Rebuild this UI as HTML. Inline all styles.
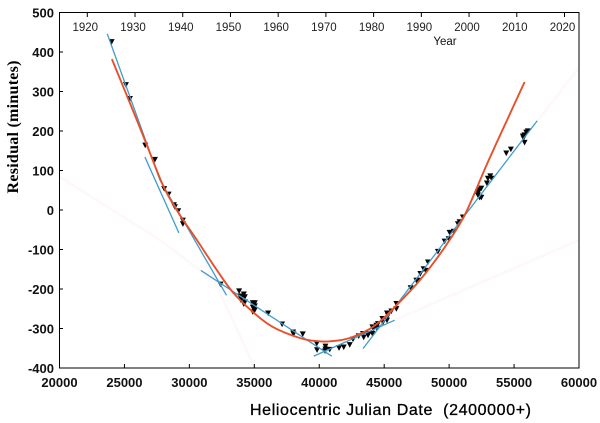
<!DOCTYPE html>
<html lang="en">
<head>
<meta charset="utf-8">
<title>Residual vs Heliocentric Julian Date</title>
<style>
html,body{margin:0;padding:0;background:#fff;width:600px;height:423px;overflow:hidden}
svg{display:block;font-family:"Liberation Sans",Arial,sans-serif}
</style>
</head>
<body>
<svg id="chart" width="600" height="423" viewBox="0 0 600 423">
  <g fill="none" stroke="#fef9f9" stroke-width="3">
    <path d="M60 177L160 240L226 290"/>
    <path d="M200 250L255 368"/>
    <path d="M395 320L579 240"/>
    <path d="M538 120L579 68"/>
  </g>
  <rect x="59.5" y="12.5" width="519.5" height="355.5" fill="none" stroke="#000" stroke-width="1"/>
  <g id="axes"></g>
  <g id="marks"></g>
  <text x="445" y="45" font-size="11.5" text-anchor="middle" fill="#111">Year</text>
  <text transform="translate(18,127) rotate(-90)" font-family="'Liberation Serif',serif" font-weight="bold" font-size="16" text-anchor="middle" textLength="133" lengthAdjust="spacing" fill="#000">Residual (minutes)</text>
  <text x="250" y="415" font-size="16" textLength="281" lengthAdjust="spacing" fill="#000" stroke="#000" stroke-width="0.3" xml:space="preserve">Heliocentric Julian Date  (2400000+)</text>
</svg>
<script>
const xTicks = [20000, 25000, 30000, 35000, 40000, 45000, 50000, 55000, 60000];
const yTicks = [500, 400, 300, 200, 100, 0, -100, -200, -300, -400];
const yearTicks = [1920, 1930, 1940, 1950, 1960, 1970, 1980, 1990, 2000, 2010, 2020];

const redJD = [24038, 25423, 26577, 27962, 29115, 30577, 32115, 33346, 34885, 36423, 38500, 39808, 41038, 42346, 43885, 44885, 46192, 47500, 48731, 50038, 51269, 52885, 54423, 55808];
const redResidual = [382, 271, 177, 63, -5, -76, -152, -208, -258, -296, -324, -332, -332, -324, -301, -276, -233, -187, -137, -76, -8, 114, 225, 324];

const fitStartJD = [23677, 26577, 27731, 30885, 39577, 43369];
const fitStartResidual = [446, 134, 76, -153, -370, -351];
const fitEndJD = [27731, 29192, 32862, 40962, 45808, 56785];
const fitEndResidual = [76, -58, -216, -370, -279, 226];

const obsJD = [24015, 25115, 25423, 26600, 27346, 28062, 28400, 28808, 28885, 29138, 29500, 29500, 32400,
  33831, 33885, 33962, 34192, 34269, 34269, 34192, 34038,
  34885, 35038, 34885, 34962, 35038, 34885, 35038, 36062, 37138, 37985, 38015, 38731,
  39808, 39831, 40477, 40477, 40446, 40808, 41523, 41885, 42346, 42600, 43038, 43369, 43423, 43754, 43754,
  44092, 44092, 44192, 44400, 44523, 44446, 44862, 44908, 45215, 45292, 45215, 45554, 45938, 45938,
  47038, 47477, 47600, 47785, 48038, 48192, 48369, 49138, 49654, 49962, 50038, 50346, 50677, 50808, 51062,
  52215, 52346, 52477, 52215, 52346, 52477, 52908, 52985, 53169, 53269, 54400, 54754,
  55677, 55808, 55938, 56062, 55731, 55808];
const obsResidual = [426, 317, 282, 164, 128, 54, 40, 13, 8, -2, -26, -35, -188,
  -205, -218, -228, -213, -220, -233, -238, -220,
  -235, -235, -246, -251, -253, -258, -243, -261, -289, -309, -314, -314,
  -338, -354, -345, -352, -357, -353, -349, -347, -341, -327, -319, -313, -322, -313, -317,
  -296, -313, -300, -292, -288, -299, -275, -284, -261, -267, -279, -256, -250, -237,
  -197, -178, -178, -161, -149, -153, -132, -105, -79, -73, -57, -54, -35, -30, -18,
  46, 51, 55, 38, 32, 32, 68, 80, 86, 80, 144, 154,
  187, 190, 197, 200, 182, 171];

const NS = 'http://www.w3.org/2000/svg';
const axes = document.getElementById('axes');
const marks = document.getElementById('marks');

function xScale(jd) { return 59.5 + (jd - 20000) * 519.5 / 40000; }
function yScale(r) { return 12.5 + (500 - r) * 355.5 / 900; }
function yearScale(y) { return 87.3 + (y - 1920) * 4.772; }

function make(tag, parent, props, text) {
  const el = document.createElementNS(NS, tag);
  for (const k in props) el.setAttribute(k, props[k]);
  if (text !== undefined) el.textContent = text;
  parent.appendChild(el);
  return el;
}

function smoothPath(xs, ys) {
  let d = 'M' + xs[0].toFixed(1) + ' ' + ys[0].toFixed(1);
  for (let i = 0; i < xs.length - 1; i++) {
    const a = Math.max(i - 1, 0), b = Math.min(i + 2, xs.length - 1);
    const c1x = xs[i] + (xs[i + 1] - xs[a]) / 6, c1y = ys[i] + (ys[i + 1] - ys[a]) / 6;
    const c2x = xs[i + 1] - (xs[b] - xs[i]) / 6, c2y = ys[i + 1] - (ys[b] - ys[i]) / 6;
    d += 'C' + c1x.toFixed(1) + ' ' + c1y.toFixed(1) + ' ' + c2x.toFixed(1) + ' ' + c2y.toFixed(1) + ' ' + xs[i + 1].toFixed(1) + ' ' + ys[i + 1].toFixed(1);
  }
  return d;
}

xTicks.forEach(function (v) {
  const x = xScale(v);
  const t = make('line', axes, {x1: x, x2: x, y1: 368, y2: 364, stroke: '#000'});
  
  
  const l = make('text', axes, {x: x, y: 387, 'font-size': 13, 'font-weight': 'bold', 'text-anchor': 'middle', fill: '#111'}, String(v));
  
  
});

yTicks.forEach(function (v) {
  const y = yScale(v);
  const t = make('line', axes, {x1: 59.5, x2: 63, y1: y, y2: y, stroke: '#000'});
  
  
  const l = make('text', axes, {x: 54, y: y + 5, 'font-size': 13, 'font-weight': 'bold', 'text-anchor': 'end', fill: '#111'}, String(v));
  
  
});

yearTicks.forEach(function (v) {
  const x = yearScale(v);
  const t = make('line', axes, {x1: x, x2: x, y1: 12.5, y2: 17, stroke: '#000'});
  
  
  const l = make('text', axes, {x: x - 2, y: 31, 'font-size': 11.5, 'text-anchor': 'middle', fill: '#222'}, String(v));
  
  
});

obsJD.forEach(function (jd, i) {
  const x = xScale(jd), y = yScale(obsResidual[i]);
  const p = make('path', marks, {d: 'M' + (x - 3) + ' ' + (y - 2.6) + 'H' + (x + 3) + 'L' + x + ' ' + (y + 3) + 'Z', fill: '#050505'});
  
  
});

fitStartJD.forEach(function (jd, i) {
  const s = make('line', marks, {x1: xScale(jd), y1: yScale(fitStartResidual[i]), x2: xScale(fitEndJD[i]), y2: yScale(fitEndResidual[i]), stroke: '#3f9ccb', 'stroke-width': 1.3});
  
  
});

const redPath = make('path', marks, {
  d: smoothPath(redJD.map(xScale), redResidual.map(yScale)),
  fill: 'none', stroke: '#e8502a', 'stroke-width': 1.9, 'stroke-linejoin': 'round'
});


</script>
</body>
</html>
